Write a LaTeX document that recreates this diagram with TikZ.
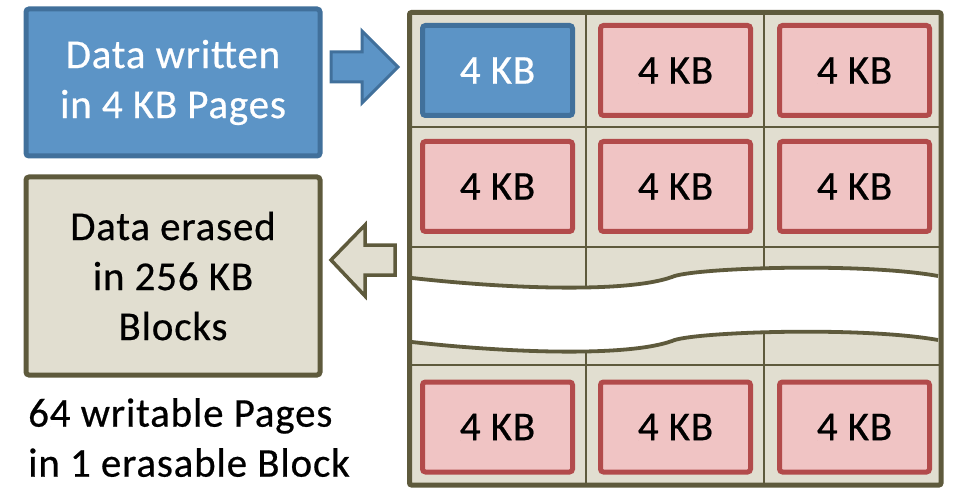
\documentclass[tikz,border=0pt]{standalone}
\usepackage{fontspec}
\setmainfont{Carlito}[LetterSpace=2.0, FakeBold=0.5]
\definecolor{gridline}{HTML}{5E5A3C}
\definecolor{tanfill}{HTML}{E1DED0}
\definecolor{bluefill}{HTML}{5C94C6}
\definecolor{blueline}{HTML}{41709B}
\definecolor{redline}{HTML}{B24B4B}
\definecolor{pinkfill}{HTML}{F0C4C4}
\tikzset{
  bigfont/.style={font=\fontsize{41}{50}\selectfont},
  sidebox/.style={line width=5pt, rounded corners=3pt, inner sep=0pt, align=center, bigfont,
                  minimum width=294pt},
  pagebox/.style={draw=redline, fill=pinkfill, line width=5pt, rounded corners=3pt, inner sep=0pt,
                  minimum width=150pt, minimum height=90pt, bigfont},
  writtenbox/.style={pagebox, draw=blueline, fill=bluefill, text=white},
  cellline/.style={draw=gridline, line width=1.8pt},
  blockarrow/.style={line width=3pt, line join=miter},
}
\begin{document}
\begin{tikzpicture}[x=1pt,y=-1pt]
\useasboundingbox (0,0) rectangle (969,489);

% left boxes
\node[sidebox, draw=blueline, fill=bluefill, text=white, minimum height=147pt] (written) at (173,82.5)
  {Data written\\in 4 KB Pages};
\node[sidebox, draw=gridline, fill=tanfill, minimum height=198pt] (erased) at (173,276)
  {Data erased\\in 256 KB\\Blocks};
\node[anchor=north west, inner sep=0pt, align=left, bigfont] (note) at (28,398)
  {64 writable Pages\\in 1 erasable Block};

% grid background
\fill[tanfill] (409.5,12.5) rectangle (941,485);
\draw[cellline] (586,12.5) -- (586,485);
\draw[cellline] (764,12.5) -- (764,485);
\draw[cellline] (409.5,127) -- (941,127);
\draw[cellline] (409.5,247) -- (941,247);
\draw[cellline] (409.5,365) -- (941,365);

% break
\fill[white] (412,278) .. controls (520,290) and (630,292) .. (672,277)
   .. controls (690,268) and (860,262) .. (938,276)
   -- (938,340) .. controls (860,326) and (690,332) .. (672,341)
   .. controls (630,356) and (520,354) .. (412,342) -- cycle;
\draw[gridline, line width=3.8pt] (412,278) .. controls (520,290) and (630,292) .. (672,277)
   .. controls (690,268) and (860,262) .. (938,276);
\draw[gridline, line width=3.8pt] (412,342) .. controls (520,354) and (630,356) .. (672,341)
   .. controls (690,332) and (860,326) .. (938,340);

% outer border
\draw[gridline, line width=5pt, rounded corners=2pt] (409.5,12.5) rectangle (941,485);

% pages
\node[writtenbox] (p11) at (497.5,70.5) {4 KB};
\node[pagebox] (p12) at (675.5,70.5) {4 KB};
\node[pagebox] (p13) at (854.5,70.5) {4 KB};
\node[pagebox] (p21) at (497.5,186.5) {4 KB};
\node[pagebox] (p22) at (675.5,186.5) {4 KB};
\node[pagebox] (p23) at (854.5,186.5) {4 KB};
\node[pagebox] (p41) at (497.5,427) {4 KB};
\node[pagebox] (p42) at (675.5,427) {4 KB};
\node[pagebox] (p43) at (854.5,427) {4 KB};

% arrows
\draw[blockarrow, draw=blueline, fill=bluefill]
  (331,52) -- (362,52) -- (362,31) -- (398,67) -- (362,103) -- (362,82) -- (331,82) -- cycle;
\draw[blockarrow, draw=gridline, fill=tanfill, line width=3.5pt]
  (395,245) -- (365,245) -- (365,225) -- (331,260) -- (365,296) -- (365,275) -- (395,275) -- cycle;
\end{tikzpicture}
\end{document}
